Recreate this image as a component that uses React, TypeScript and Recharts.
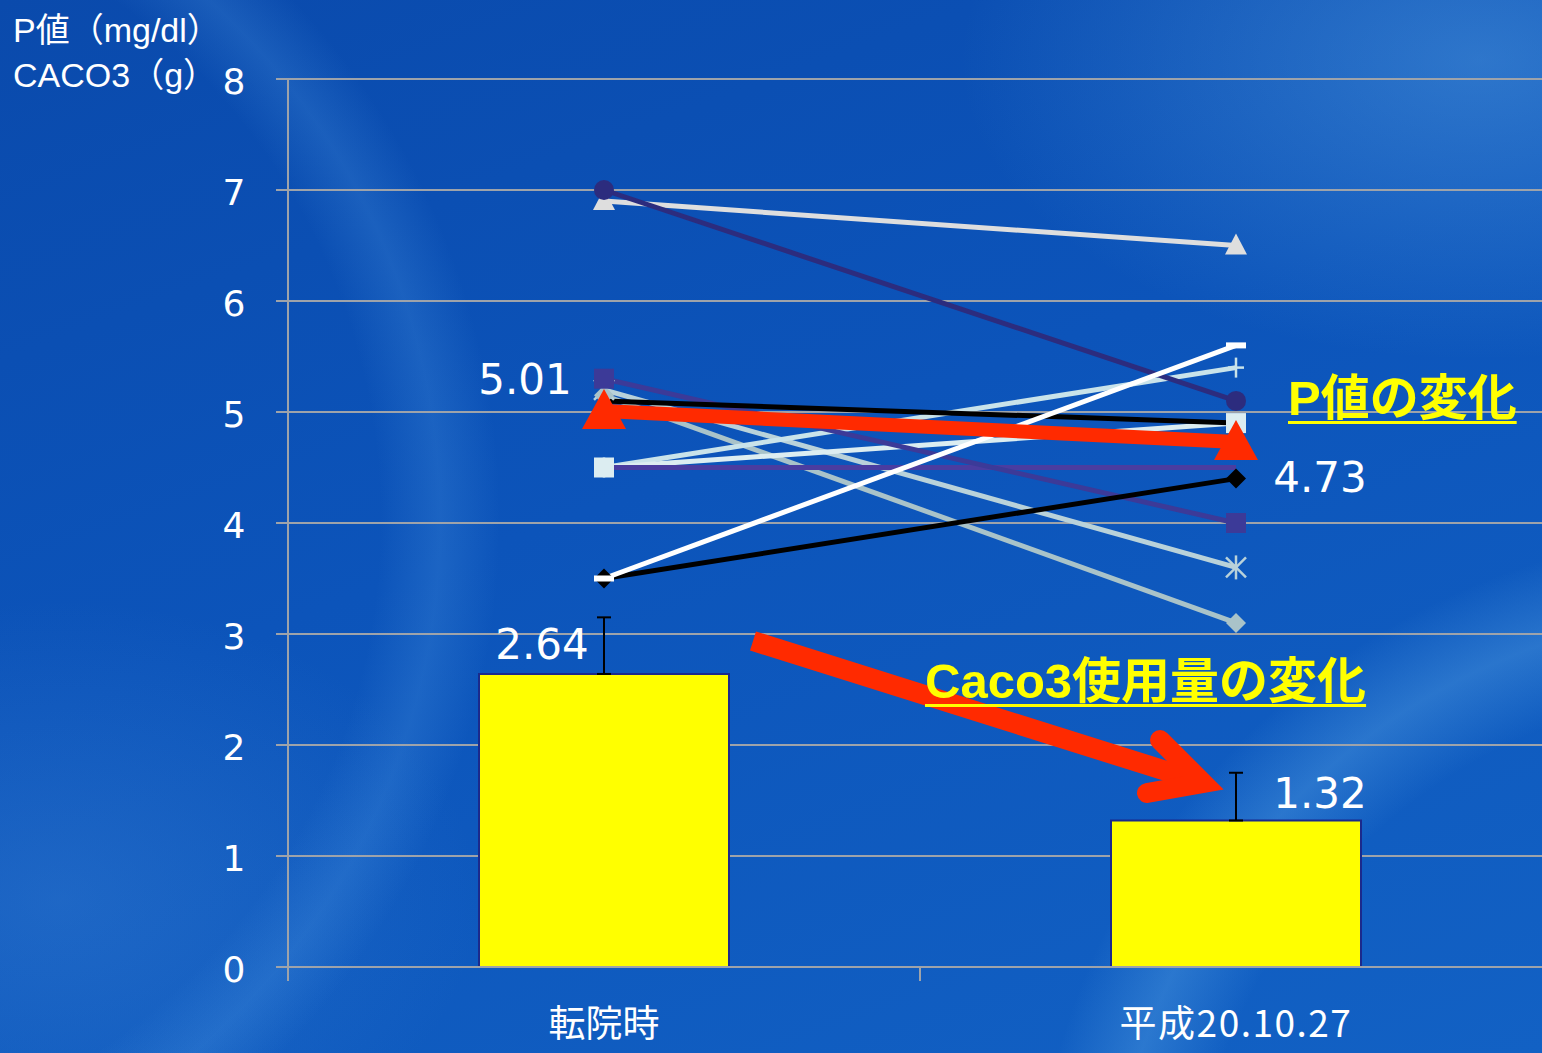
import {
  Bar,
  CartesianGrid,
  ComposedChart,
  ErrorBar,
  LabelList,
  Line,
  XAxis,
  YAxis
} from 'recharts'

// categories and values
const categories = ['転院時', '平成20.10.27']
const yTicks = [0, 1, 2, 3, 4, 5, 6, 7, 8]
const caco3Mean = [2.64, 1.32]
const caco3Err = [
  [0, 0.51],
  [0, 0.43]
]
const pMean = [5.01, 4.73]

const p1 = [5.2, 3.6]
const p2 = [5.15, 3.1]
const p3 = [4.5, 5.4]
const p4 = [4.5, 4.9]
const p5 = [6.9, 6.5]
const p6 = [4.5, 4.5]
const p7 = [5.3, 4.0]
const p8 = [7.0, 5.1]
const p9 = [5.1, 4.9]
const p10 = [3.5, 4.4]
const p11 = [3.5, 5.6]

const patients = [p1, p2, p3, p4, p5, p6, p7, p8, p9, p10, p11]

// style per patient line (same order as patients)
const patientStyles = [
  { color: '#b9d2da', shape: 'asterisk' },
  { color: '#a9c3c9', shape: 'diamond' },
  { color: '#c9e3ea', shape: 'plus' },
  { color: '#dcedf1', shape: 'square' },
  { color: '#dedede', shape: 'triangle' },
  { color: '#4a3da0', shape: 'none' },
  { color: '#3c3a98', shape: 'square' },
  { color: '#2c2c7e', shape: 'circle' },
  { color: '#000000', shape: 'none' },
  { color: '#000000', shape: 'diamond' },
  { color: '#ffffff', shape: 'dash' }
]

const data = categories.map((cat, i) => {
  const row: Record<string, unknown> = {
    cat,
    caco3: caco3Mean[i],
    err: caco3Err[i],
    avg: pMean[i]
  }
  patients.forEach((p, k) => {
    row[`p${k}`] = p[i]
  })
  return row
})

const GRID = '#9ea3aa'
const HALF_BAND = 316

function markerFor(shape: string, color: string) {
  return (props: any) => {
    const { cx, cy, index } = props
    const key = `m-${shape}-${index}`
    if (cx == null || cy == null) return <g key={key} />
    switch (shape) {
      case 'circle':
        return <circle key={key} cx={cx} cy={cy} r={10} fill={color} />
      case 'square':
        return <rect key={key} x={cx - 10} y={cy - 10} width={20} height={20} fill={color} />
      case 'triangle':
        return (
          <polygon
            key={key}
            points={`${cx},${cy - 12} ${cx + 11},${cy + 9} ${cx - 11},${cy + 9}`}
            fill={color}
          />
        )
      case 'diamond':
        return (
          <polygon
            key={key}
            points={`${cx},${cy - 10} ${cx + 10},${cy} ${cx},${cy + 10} ${cx - 10},${cy}`}
            fill={color}
          />
        )
      case 'asterisk':
        return (
          <g key={key} stroke={color} strokeWidth={2.5}>
            <line x1={cx - 10} y1={cy - 10} x2={cx + 10} y2={cy + 10} />
            <line x1={cx - 10} y1={cy + 10} x2={cx + 10} y2={cy - 10} />
            <line x1={cx} y1={cy - 12} x2={cx} y2={cy + 12} />
          </g>
        )
      case 'plus':
        return (
          <g key={key} stroke={color} strokeWidth={2.5}>
            <line x1={cx - 8} y1={cy} x2={cx + 8} y2={cy} />
            <line x1={cx} y1={cy - 10} x2={cx} y2={cy + 10} />
          </g>
        )
      case 'dash':
        return <rect key={key} x={cx - 10} y={cy - 3} width={20} height={6} fill={color} />
      default:
        return <g key={key} />
    }
  }
}

function redTriangle(props: any) {
  const { cx, cy, index } = props
  return (
    <polygon
      key={`avg-${index}`}
      points={`${cx},${cy - 22} ${cx + 22},${cy + 18} ${cx - 22},${cy + 18}`}
      fill="#ff2a00"
    />
  )
}

const valueFont = {
  fill: '#ffffff',
  fontSize: 42,
  fontFamily: '"DejaVu Sans", Verdana, sans-serif'
}

function barLabel(props: any) {
  const { x, y, width, value, index } = props
  const cx = x + width / 2
  const dx = index === 0 ? -62 : 84
  const dy = index === 0 ? -29 : -27
  return (
    <text
      key={`bl-${index}`}
      x={cx + dx}
      y={y + dy}
      textAnchor="middle"
      dominantBaseline="central"
      {...valueFont}
    >
      {Number(value).toFixed(2)}
    </text>
  )
}

function avgLabel(props: any) {
  const { x, y, value, index } = props
  const dx = index === 0 ? -79 : 84
  const dy = index === 0 ? -31 : 36
  return (
    <text
      key={`al-${index}`}
      x={x + dx}
      y={y + dy}
      textAnchor="middle"
      dominantBaseline="central"
      {...valueFont}
    >
      {Number(value).toFixed(2)}
    </text>
  )
}

function YTick(props: any) {
  const { y, payload } = props
  return (
    <text
      x={234}
      y={y + 2}
      textAnchor="middle"
      dominantBaseline="central"
      fill="#ffffff"
      fontSize={36}
      fontFamily='"DejaVu Sans", Verdana, sans-serif'
    >
      {payload.value}
    </text>
  )
}

function XTick(props: any) {
  const { x, y, payload, index } = props
  return (
    <g>
      {index === 0 && (
        <line x1={x - HALF_BAND} y1={y - 8} x2={x - HALF_BAND} y2={y + 6} stroke={GRID} strokeWidth={2} />
      )}
      <line x1={x + HALF_BAND} y1={y - 8} x2={x + HALF_BAND} y2={y + 6} stroke={GRID} strokeWidth={2} />
      <text
        x={x}
        y={1021}
        textAnchor="middle"
        dominantBaseline="central"
        fill="#ffffff"
        fontSize={37}
        letterSpacing={index === 1 ? 1.5 : 0}
        fontFamily='"Noto Sans CJK JP", sans-serif'
      >
        {payload.value}
      </text>
    </g>
  )
}

const background = [
  'radial-gradient(ellipse 520px 300px at 1480px 60px, rgba(110,185,240,0.35), rgba(110,185,240,0) 100%)',
  'radial-gradient(circle at -260px 520px, rgba(80,150,225,0) 640px, rgba(90,165,235,0.2) 700px, rgba(80,150,225,0) 760px)',
  'radial-gradient(circle at 1750px 1250px, rgba(90,170,235,0) 560px, rgba(110,185,240,0.28) 640px, rgba(90,170,235,0) 720px)',
  'radial-gradient(ellipse 420px 300px at 60px 900px, rgba(90,160,230,0.22), rgba(90,160,230,0) 100%)',
  'linear-gradient(160deg, #0a4aac 0%, #0c54ba 45%, #1261c4 100%)'
].join(', ')

const annotationFont = '"Liberation Sans", "Noto Sans CJK JP", sans-serif'

const noteStyle = {
  position: 'absolute' as const,
  color: '#ffff00',
  fontFamily: annotationFont,
  fontWeight: 'bold' as const,
  fontSize: 49,
  lineHeight: '56px',
  textDecoration: 'underline',
  textDecorationThickness: 3,
  textUnderlineOffset: 6,
  whiteSpace: 'nowrap' as const
}

export default function App() {
  return (
    <div
      style={{
        position: 'fixed',
        left: 0,
        top: 0,
        width: 1542,
        height: 1053,
        overflow: 'hidden',
        background
      }}
    >
      <div
        style={{
          position: 'absolute',
          left: 13,
          top: 8,
          color: '#ffffff',
          fontFamily: annotationFont,
          fontSize: 34,
          lineHeight: '45px',
          whiteSpace: 'nowrap'
        }}
      >
        <div>P値（mg/dl）</div>
        <div>CACO3（g）</div>
      </div>

      <div style={{ position: 'absolute', left: 0, top: 0 }}>
        <ComposedChart
          width={1560}
          height={1053}
          data={data}
          margin={{ top: 79, right: 8, bottom: 0, left: 0 }}
          barCategoryGap={0}
        >
          <CartesianGrid vertical={false} stroke={GRID} strokeWidth={2} />
          <XAxis
            dataKey="cat"
            axisLine={{ stroke: GRID, strokeWidth: 2 }}
            tickLine={false}
            tick={<XTick />}
            height={86}
            interval={0}
          />
          <YAxis
            type="number"
            domain={[0, 8]}
            ticks={yTicks}
            width={288}
            axisLine={{ stroke: GRID, strokeWidth: 2 }}
            tickLine={{ stroke: GRID, strokeWidth: 2 }}
            tickSize={12}
            tick={<YTick />}
          />
          <Bar
            dataKey="caco3"
            barSize={250}
            fill="#ffff00"
            stroke="#1b2a8c"
            strokeWidth={2}
            isAnimationActive={false}
          >
            <ErrorBar dataKey="err" direction="y" width={7} stroke="#000000" strokeWidth={2} />
            <LabelList dataKey="caco3" content={barLabel} />
          </Bar>
          {patients.map((_, k) => (
            <Line
              key={`p${k}`}
              dataKey={`p${k}`}
              stroke={patientStyles[k].color}
              strokeWidth={5}
              dot={markerFor(patientStyles[k].shape, patientStyles[k].color)}
              activeDot={false}
              isAnimationActive={false}
            />
          ))}
          <Line
            dataKey="avg"
            stroke="#ff2a00"
            strokeWidth={14}
            dot={redTriangle}
            activeDot={false}
            isAnimationActive={false}
          >
            <LabelList dataKey="avg" content={avgLabel} />
          </Line>
        </ComposedChart>
      </div>

      <svg
        width={1542}
        height={1053}
        style={{ position: 'absolute', left: 0, top: 0, pointerEvents: 'none' }}
      >
        <g stroke="#ff2a00" strokeWidth={20} fill="none">
          <line x1={753} y1={641} x2={1198} y2={781} strokeLinecap="butt" />
          <polyline points="1160,740 1203,783 1147,793" strokeLinecap="round" strokeLinejoin="miter" />
        </g>
      </svg>

      <div style={{ ...noteStyle, left: 1288, top: 370 }}>P値の変化</div>
      <div style={{ ...noteStyle, left: 925, top: 653 }}>Caco3使用量の変化</div>
    </div>
  )
}
